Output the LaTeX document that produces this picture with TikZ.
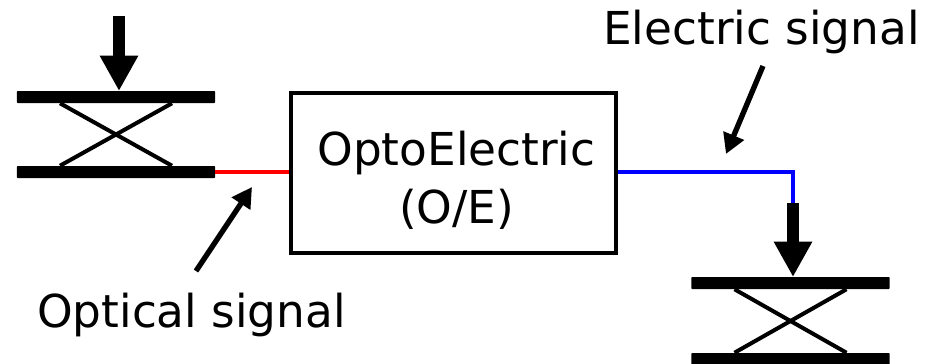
\documentclass[tikz,border=0pt]{standalone}
\usepackage{fontspec}
\setmainfont{DejaVu Sans}
\usetikzlibrary{arrows.meta,calc}
\tikzset{
  x=0.75pt,y=-0.75pt,
  jackbar/.style={fill=black,draw=none,inner sep=0pt,minimum width=148.8pt,minimum height=9pt,rounded corners=0.6pt},
  scissor/.style={line width=3pt,black},
  pressarrow/.style={line width=9pt,-{Triangle[length=26.5pt,width=27pt]},black},
  signalarrow/.style={line width=4pt,-{Triangle[length=15pt,width=16pt]},black},
  mainbox/.style={draw=black,line width=3pt,fill=white,minimum width=244pt,minimum height=119.5pt,inner sep=0pt,align=center,font=\fontsize{34pt}{43.5pt}\selectfont},
  label/.style={inner sep=0pt,font=\fontsize{34pt}{40pt}\selectfont},
  optical/.style={line width=3.2pt,color=red},
  electric/.style={line width=3.2pt,color=blue},
}
\begin{document}
\begin{tikzpicture}
\useasboundingbox (0,0) rectangle (936,364);
% left jack
\node[jackbar] (ltop) at (116,97) {};
\node[jackbar] (lbot) at (116,172) {};
\coordinate (lta) at ($(ltop.south)+(-56,0)$);
\coordinate (ltb) at ($(ltop.south)+(56,0)$);
\coordinate (lba) at ($(lbot.north)+(-56,0)$);
\coordinate (lbb) at ($(lbot.north)+(56,0)$);
\draw[scissor] (lta) -- (lbb);
\draw[scissor] (ltb) -- (lba);
\coordinate (lin) at (119,16);
\coordinate (lintip) at (119,91);
\draw[pressarrow] (lin) -- (lintip);
% box
\node[mainbox] (oe) at (453.5,173) {\rule{0pt}{36pt}\hspace*{4.5pt}OptoElectric\\\hspace*{4.5pt}(O/E)};
% right jack
\node[jackbar] (rtop) at (790.5,283) {};
\node[jackbar] (rbot) at (790.5,359) {};
\coordinate (rta) at ($(rtop.south)+(-56,0)$);
\coordinate (rtb) at ($(rtop.south)+(56,0)$);
\coordinate (rba) at ($(rbot.north)+(-56,0)$);
\coordinate (rbb) at ($(rbot.north)+(56,0)$);
\draw[scissor] (rta) -- (rbb);
\draw[scissor] (rtb) -- (rba);
\coordinate (rin) at (793,203);
\coordinate (rintip) at (793,277);
% connectors
\draw[optical] (lbot.east) -- (oe.west |- lbot.east);
\draw[electric,line join=miter] (oe.east |- 0,172) -- (793,172) -- (rin);
\draw[pressarrow] (rin) -- (rintip);
% labels
\node[label,anchor=base] (el) at (761.5,45) {Electric signal};
\node[label,anchor=base] (ol) at (191.5,327) {Optical signal};
\coordinate (ea) at (763,66);
\coordinate (eb) at (726,154);
\coordinate (oa) at (196,271);
\coordinate (ob) at (252,187);
\draw[signalarrow] (ea) -- (eb);
\draw[signalarrow] (oa) -- (ob);
\end{tikzpicture}
\end{document}
